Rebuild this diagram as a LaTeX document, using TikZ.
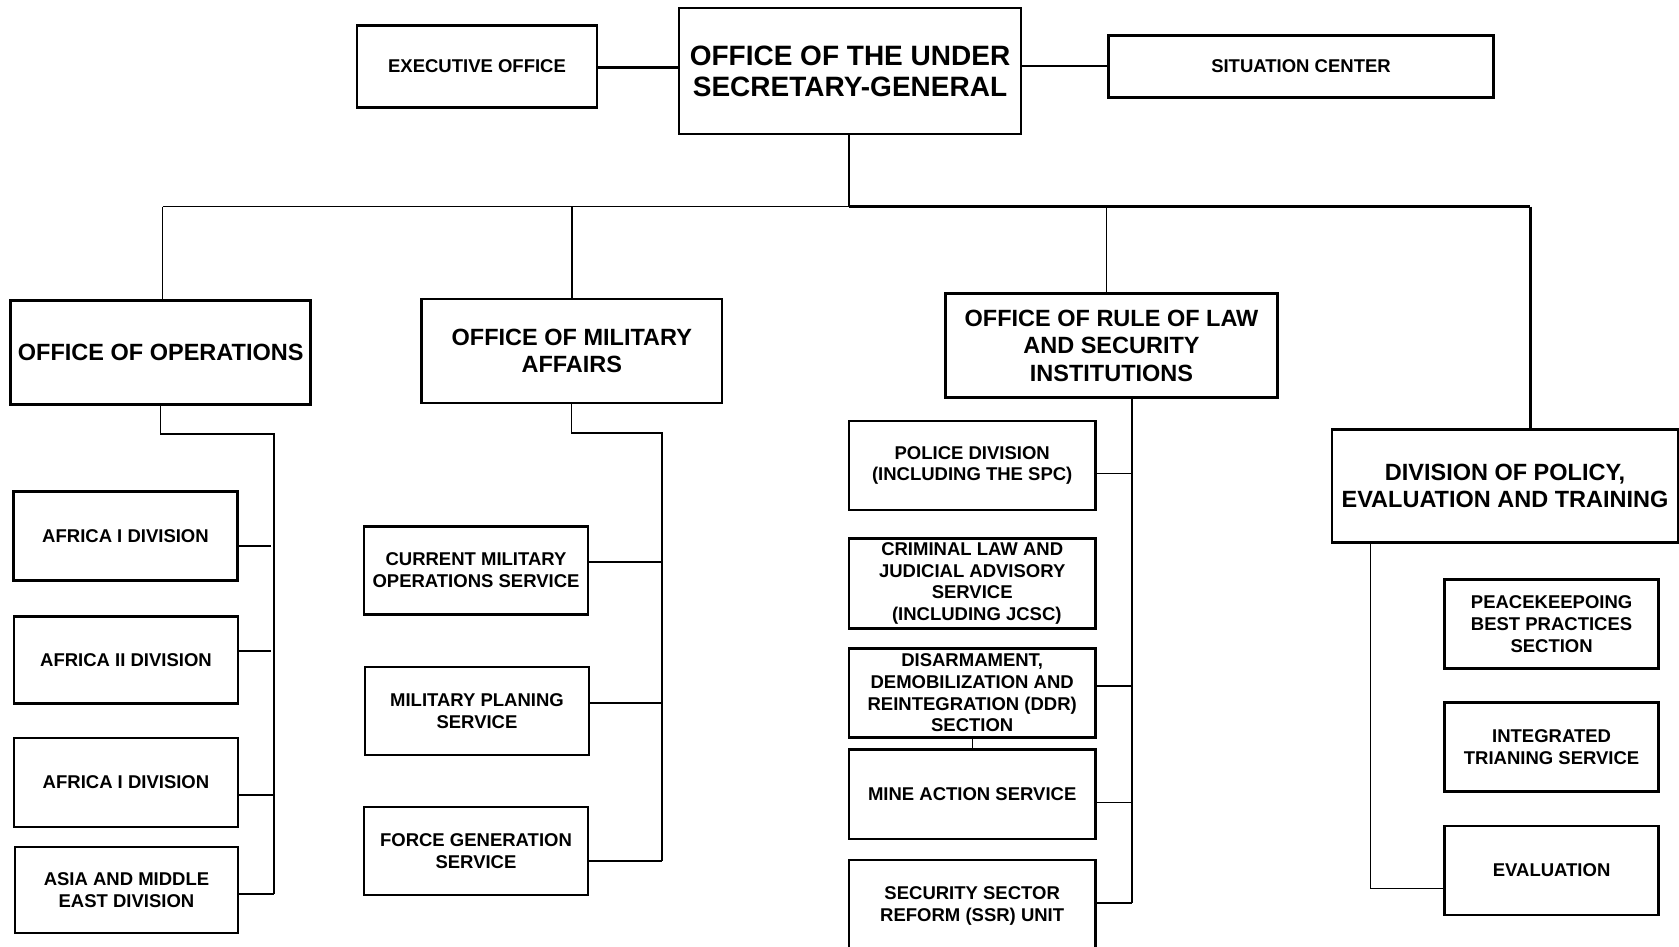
\documentclass[tikz,border=0pt]{standalone}
\usepackage{fontspec}
\setmainfont{Liberation Sans}
\begin{document}
\begin{tikzpicture}[x=1pt,y=-1pt,
  box/.style={draw, line width=2.6pt, inner sep=0pt, align=center,
    font=\bfseries\fontsize{18.5}{21.8}\selectfont},
  bigbox/.style={box, font=\bfseries\fontsize{23.5}{27.5}\selectfont},
  topbox/.style={box, font=\bfseries\fontsize{28}{31}\selectfont},
  lbl/.style={inner sep=0pt, align=center, font=\bfseries\fontsize{18.5}{21.8}\selectfont},
  conn/.style={line width=1.3pt},
  connbold/.style={line width=2.8pt}]
\useasboundingbox (0,0) rectangle (1679,947);

% top level
\node[topbox, minimum width=342pt, minimum height=126pt] (usg) at (850,71) {OFFICE OF THE UNDER\\SECRETARY-GENERAL};
\node[box, minimum width=240pt, minimum height=81.5pt] (exec) at (477,66.5) {EXECUTIVE OFFICE};
\node[box, minimum width=385pt, minimum height=62pt] (sit) at (1301,66.5) {SITUATION CENTER};
\draw[connbold] (exec.east |- 0,67.7) -- (usg.west |- 0,67.7);
\draw[connbold] (usg.east |- 0,66) -- (sit.west |- 0,66);

% second level
\node[bigbox, minimum width=300pt, minimum height=104pt] (ops) at (160.7,352.2) {OFFICE OF OPERATIONS};
\node[bigbox, minimum width=300.5pt, minimum height=103.7pt] (mil) at (571.8,351) {OFFICE OF MILITARY\\AFFAIRS};
\node[bigbox, minimum width=332pt, minimum height=104.4pt] (rol) at (1111.5,345.5) {OFFICE OF RULE OF LAW\\AND SECURITY\\INSTITUTIONS};
\node[bigbox, minimum width=346pt, minimum height=113pt] (dpet) at (1505,486) {DIVISION OF POLICY,\\EVALUATION AND TRAINING};

% bus
\coordinate (busL) at (162.8,206.5);
\coordinate (busM) at (849,206.5);
\coordinate (busR) at (1530.4,206.5);
\draw[connbold] (usg.south -| busM) -- (busM);
\draw[conn] (busL) -- (busM);
\draw[connbold] (busM) -- (busR);
\draw[conn] (busL) -- (busL |- ops.north);
\draw[conn] (572,206.5) -- (572,0 |- mil.north);
\draw[conn] (1106.2,206.5) -- (1106.2,0 |- rol.north);
\draw[connbold] (busR) -- (busR |- dpet.north);

% operations
\node[box, minimum width=224pt, minimum height=88.5pt] (af1) at (125.5,536) {AFRICA I DIVISION};
\node[box, minimum width=224pt, minimum height=87.5pt] (af2) at (126,660) {AFRICA II DIVISION};
\node[box, minimum width=224pt, minimum height=89pt] (af3) at (126,782.5) {AFRICA I DIVISION};
\node[box, minimum width=223pt, minimum height=86pt] (asia) at (126.5,890) {ASIA AND MIDDLE\\EAST DIVISION};
\coordinate (opsT) at (274,434);
\draw[conn] (ops.south -| 160.7,0) -- (160.7,434) -- (opsT) -- (274,894);
\draw[conn] (af1.east |- 0,546) -- (270.5,546);
\draw[conn] (af2.east |- 0,651) -- (270.5,651);
\draw[conn] (af3.east |- 0,795) -- (274,795);
\draw[conn] (asia.east |- 0,894) -- (274,894);

% military
\node[box, minimum width=224pt, minimum height=88pt] (cmos) at (476,570.5) {CURRENT MILITARY\\OPERATIONS SERVICE};
\node[box, minimum width=224pt, minimum height=88pt] (mps) at (477,711) {MILITARY PLANING\\SERVICE};
\node[box, minimum width=224pt, minimum height=88pt] (fgs) at (476,851) {FORCE GENERATION\\SERVICE};
\draw[conn] (mil.south) -- (571.8,433) -- (662,433) -- (662,861);
\draw[conn] (cmos.east |- 0,562) -- (662,562);
\draw[conn] (mps.east |- 0,703) -- (662,703);
\draw[conn] (fgs.east |- 0,861) -- (662,861);

% rule of law
\node[box, minimum width=246.5pt, minimum height=89pt] (police) at (972.2,465.5) {POLICE DIVISION\\(INCLUDING THE SPC)};
\node[box, minimum width=246.5pt, minimum height=89.5pt] (crim) at (972.2,583.5) {CRIMINAL LAW AND\\JUDICIAL ADVISORY\\SERVICE\\\hspace*{0.5em}(INCLUDING JCSC)};
\node[box, minimum width=246.5pt, minimum height=89pt] (ddr) at (972.2,692.9) {DISARMAMENT,\\DEMOBILIZATION AND\\REINTEGRATION (DDR)\\SECTION};
\node[box, minimum width=246.5pt, minimum height=89.5pt] (mine) at (972.2,794.3) {MINE ACTION SERVICE};
\node[box, minimum width=246.5pt, minimum height=110pt] (ssr) at (972.2,915) {};
\node[lbl] (ssrtext) at (972.2,906) {SECURITY SECTOR\\REFORM (SSR) UNIT};
\draw[conn] (1132,0 |- rol.south) -- (1132,903);
\draw[conn] (police.east |- 0,473.5) -- (1132,473.5);
\draw[conn] (ddr.east |- 0,686) -- (1132,686);
\draw[conn] (mine.east |- 0,802.4) -- (1132,802.4);
\draw[conn] (ssr.east |- 0,903) -- (1132,903);
\draw[conn] (ddr.south) -- (mine.north);

% policy
\node[box, minimum width=214pt, minimum height=89pt] (pbps) at (1551.6,624) {PEACEKEEPOING\\BEST PRACTICES\\SECTION};
\node[box, minimum width=214pt, minimum height=89pt] (its) at (1551.6,747) {INTEGRATED\\TRIANING SERVICE};
\node[box, minimum width=214pt, minimum height=89pt] (eval) at (1551.6,870.5) {EVALUATION};
\draw[conn] (1370.6,0 |- dpet.south) -- (1370.6,888.5) -- (eval.west |- 0,888.5);
\end{tikzpicture}
\end{document}
